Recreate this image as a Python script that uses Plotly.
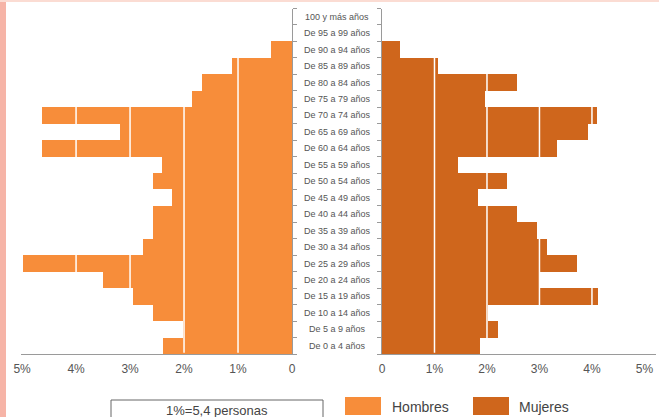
import plotly.graph_objects as go

W, H = 659, 417

edades = [
    "De 0 a 4 años", "De 5 a 9 años", "De 10 a 14 años", "De 15 a 19 años",
    "De 20 a 24 años", "De 25 a 29 años", "De 30 a 34 años", "De 35 a 39 años",
    "De 40 a 44 años", "De 45 a 49 años", "De 50 a 54 años", "De 55 a 59 años",
    "De 60 a 64 años", "De 65 a 69 años", "De 70 a 74 años", "De 75 a 79 años",
    "De 80 a 84 años", "De 85 a 89 años", "De 90 a 94 años", "De 95 a 99 años",
    "100 y más años",
]
hombres = [2.39, 2.02, 2.57, 2.94, 3.50, 4.98, 2.76, 2.57, 2.57, 2.22, 2.57,
           2.40, 4.63, 3.19, 4.63, 1.85, 1.67, 1.11, 0.39, 0, 0]
mujeres = [1.87, 2.21, 2.02, 4.11, 3.00, 3.71, 3.14, 2.95, 2.57, 1.83, 2.38,
           1.45, 3.33, 3.92, 4.10, 1.96, 2.57, 1.07, 0.34, 0, 0]

ticks_pct = [0, 1, 2, 3, 4, 5]
ticks_txt = ["0", "1%", "2%", "3%", "4%", "5%"]

C_HOM = "#F78D3A"
C_MUJ = "#CF661C"
GRIS = "#555555"
NARROW = "Liberation Sans Narrow, Arial Narrow, Liberation Sans, sans-serif"


def px_x(v):
    return v / W


def px_y(v):
    return (H - v) / H


fig = go.Figure()
fig.add_trace(go.Bar(x=hombres, y=edades, orientation="h", xaxis="x", yaxis="y",
                     marker=dict(color=C_HOM, line=dict(width=0)), name="Hombres",
                     hoverinfo="skip"))
fig.add_trace(go.Bar(x=mujeres, y=edades, orientation="h", xaxis="x2", yaxis="y2",
                     marker=dict(color=C_MUJ, line=dict(width=0)), name="Mujeres",
                     hoverinfo="skip"))

ydom = [px_y(354), px_y(8.5)]
common_x = dict(showline=True, linecolor="#9a9a9a", linewidth=1, showgrid=False,
                zeroline=False, ticks="", tickfont=dict(family=NARROW, size=12, color=GRIS),
                ticklabelstandoff=4, fixedrange=True)
common_y = dict(showline=True, linecolor="#9a9a9a", linewidth=1, showgrid=False,
                zeroline=False, ticks="outside", ticklen=4, tickcolor="#9a9a9a",
                tickson="boundaries", showticklabels=False, domain=ydom,
                categoryorder="array", categoryarray=edades, fixedrange=True)

fig.update_layout(
    width=W, height=H,
    margin=dict(l=0, r=0, t=0, b=0, autoexpand=False),
    paper_bgcolor="white", plot_bgcolor="white",
    showlegend=False, bargap=0,
    xaxis=dict(domain=[px_x(21), px_x(292)], range=[5.02, 0], anchor="y",
               tickvals=ticks_pct, ticktext=ticks_txt, **common_x),
    xaxis2=dict(domain=[px_x(382), px_x(656)], range=[0, 5.22], anchor="y2",
                tickvals=ticks_pct, ticktext=ticks_txt, **common_x),
    yaxis=dict(anchor="x", side="right", **common_y),
    yaxis2=dict(anchor="x2", side="left", matches="y", **common_y),
)

# etiquetas de edad en el centro
for e in edades:
    fig.add_annotation(x=px_x(337), xref="paper", xanchor="center", y=e, yref="y",
                       yanchor="middle", text=e, showarrow=False,
                       font=dict(family=NARROW, size=9, color=GRIS))

# lineas blancas de cuadricula sobre las barras
for k in [1, 2, 3, 4]:
    for xr in ["x", "x2"]:
        fig.add_shape(type="line", xref=xr, yref="paper", x0=k, x1=k,
                      y0=ydom[0] + 0.003, y1=ydom[1], layer="above",
                      line=dict(color="white", width=1.5))

# borde rosado de la pagina
fig.add_shape(type="rect", xref="paper", yref="paper", x0=0, x1=px_x(6), y0=0, y1=1,
              fillcolor="#F6B4A7", line=dict(width=0), layer="below")
fig.add_shape(type="rect", xref="paper", yref="paper", x0=0, x1=1, y0=px_y(2), y1=1,
              fillcolor="#FBDCD3", line=dict(width=0), layer="below")

# leyenda
fig.add_shape(type="rect", xref="paper", yref="paper", x0=px_x(111), x1=px_x(323),
              y0=px_y(420), y1=px_y(400), line=dict(color="#666666", width=1),
              fillcolor="rgba(0,0,0,0)")
fig.add_annotation(x=px_x(217), y=px_y(410), xref="paper", yref="paper",
                   xanchor="center", yanchor="middle",
                   text="1%=5,4 personas", showarrow=False,
                   font=dict(family=NARROW, size=13, color="#444444"))
leyenda = [("Hombres", C_HOM, 345, 390), ("Mujeres", C_MUJ, 473, 517)]
for nombre, color, x0, xt in leyenda:
    fig.add_shape(type="rect", xref="paper", yref="paper", x0=px_x(x0), x1=px_x(x0 + 36),
                  y0=px_y(415), y1=px_y(397), fillcolor=color, line=dict(width=0))
    fig.add_annotation(x=px_x(xt), y=px_y(407), xref="paper", yref="paper",
                       xanchor="left", yanchor="middle",
                       text=nombre, showarrow=False,
                       font=dict(family=NARROW, size=14, color="#444444"))

# sin margen del body para que la figura ocupe la ventana exacta
fig.write_html(
    "out.html",
    config={"displayModeBar": False, "staticPlot": True},
    post_script="document.documentElement.style.margin='0';"
                "document.body.style.margin='0';document.body.style.padding='0';"
                "document.body.style.overflow='hidden';",
)
